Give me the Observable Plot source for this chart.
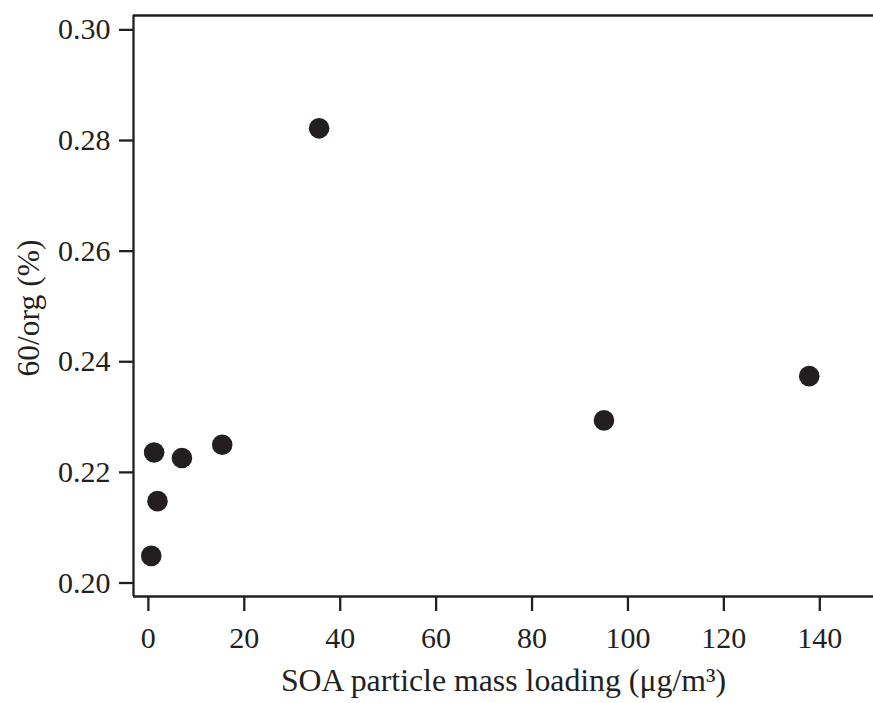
<!DOCTYPE html>
<html><head><meta charset="utf-8">
<script src="https://cdn.jsdelivr.net/npm/d3@7"></script>
<script src="https://cdn.jsdelivr.net/npm/@observablehq/plot@0.6"></script>
<style>html,body{margin:0;padding:0;background:#fff}</style>
</head><body><div id="chart"></div>
<script>
const soaLoading = [0.6, 1.2, 1.9, 7.0, 15.4, 35.6, 95.0, 137.8];
const ratio60org = [0.2049, 0.2236, 0.2148, 0.2226, 0.2250, 0.2822, 0.2294, 0.2374];
const xTicks = [0, 20, 40, 60, 80, 100, 120, 140];
const yTicks = [0.20, 0.22, 0.24, 0.26, 0.28, 0.30];
const xLabel = "SOA particle mass loading (μg/m³)";
const yLabel = "60/org (%)";
const xDomain = [-3.1, 151.2];
const yDomain = [0.19756, 0.3026];

const data = soaLoading.map((x, i) => ({x, y: ratio60org[i]}));
const ink = "#231f20";
const font = "'Liberation Serif','Times New Roman',serif";

const chart = Plot.plot({
  width: 873, height: 703,
  marginLeft: 133, marginRight: 0, marginTop: 15, marginBottom: 107,
  style: {fontFamily: font, background: "#fff", color: ink, overflow: "visible"},
  x: {domain: xDomain},
  y: {domain: yDomain},
  marks: [
    Plot.axisX({ticks: xTicks, tickSize: 15, tickPadding: 15, fontSize: 30, color: ink, label: null}),
    Plot.axisY({ticks: yTicks, tickFormat: d3.format(".2f"), tickSize: 14, tickPadding: 9, fontSize: 30, color: ink, label: null}),
    Plot.ruleX([xDomain[0]], {y1: yDomain[0], y2: yDomain[1], stroke: ink, strokeWidth: 2.3}),
    Plot.ruleY([yDomain[0], yDomain[1]], {stroke: ink, strokeWidth: 2.3}),
    Plot.dot(data, {x: "x", y: "y", r: 10.3, fill: ink, stroke: null}),
    Plot.text([xLabel], {frameAnchor: "bottom", lineAnchor: "bottom", textAnchor: "middle", dy: 94, fontSize: 31.8, fill: ink}),
    Plot.text([yLabel], {frameAnchor: "left", rotate: -90, textAnchor: "middle", lineAnchor: "middle", dx: -105, dy: 2, fontSize: 31.5, fill: ink})
  ]
});
d3.select(chart).selectAll('[aria-label="x-axis tick"], [aria-label="y-axis tick"]')
  .attr("stroke-width", 2.3).attr("stroke-opacity", 1);
document.getElementById("chart").appendChild(chart);
</script>
</body></html>
